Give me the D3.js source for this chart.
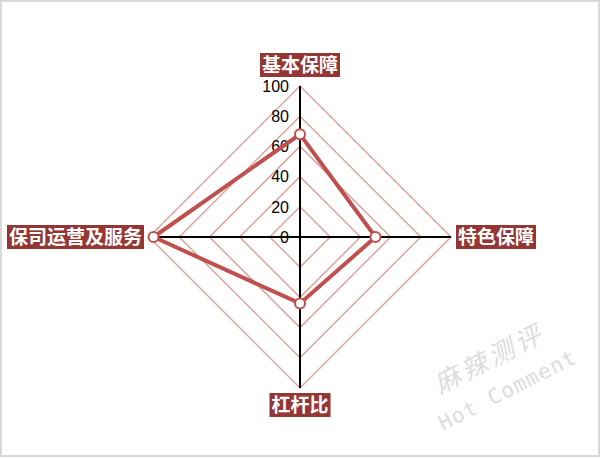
<!DOCTYPE html>
<html><head><meta charset="utf-8">
<script src="https://cdn.jsdelivr.net/npm/d3@7"></script>
<style>html,body{margin:0;padding:0;background:#fff;}svg{display:block;}</style>
</head><body>
<svg id="c" width="601" height="458"></svg>
<script>
const categories = ["基本保障", "特色保障", "杠杆比", "保司运营及服务"];
const values = [68, 50, 44, 97];
const tickValues = [0, 20, 40, 60, 80, 100];

const W = 601, H = 458, cx = 300, cy = 237, R = 151;
const svg = d3.select("#c");
svg.append("rect").attr("x", 1).attr("y", 1).attr("width", W - 3).attr("height", H - 3)
  .attr("fill", "#fff").attr("stroke", "#d9d9d9").attr("stroke-width", 2);

const r = d3.scaleLinear().domain([0, 100]).range([0, R]);
const ang = d3.scaleOrdinal().domain(categories).range(categories.map((d, i) => i * Math.PI * 2 / categories.length));
const pt = (c, v) => [cx + r(v) * Math.sin(ang(c)), cy - r(v) * Math.cos(ang(c))];

const g = svg.append("g");
// grid
const line = d3.line().curve(d3.curveLinearClosed);
tickValues.filter(t => t > 0).forEach(t => {
  g.append("path").attr("d", line(categories.map(c => pt(c, t))))
    .attr("fill", "none").attr("stroke", "#dba5a1").attr("stroke-width", 1.5);
});
// axes
categories.forEach(c => {
  const [x, y] = pt(c, 100);
  g.append("line").attr("x1", cx).attr("y1", cy).attr("x2", x).attr("y2", y)
    .attr("stroke", "#000").attr("stroke-width", 2);
});
// tick labels
tickValues.forEach(t => {
  g.append("text").attr("x", cx - 11).attr("y", cy - r(t)).attr("dy", "0.36em")
    .attr("text-anchor", "end").attr("font-family", "Liberation Sans, Arial, sans-serif")
    .attr("font-size", 16).attr("fill", "#000").text(t);
});
// data
g.append("path").attr("d", line(categories.map((c, i) => pt(c, values[i]))))
  .attr("fill", "none").attr("stroke", "#c0504d").attr("stroke-width", 4).attr("stroke-linejoin", "miter");
categories.forEach((c, i) => {
  const [x, y] = pt(c, values[i]);
  g.append("circle").attr("cx", x).attr("cy", y).attr("r", 5)
    .attr("fill", "#fff").attr("stroke", "#c0504d").attr("stroke-width", 2);
});
// category labels
const labelPos = [
  {anchor: "middle", dx: 0, dy: -21},
  {anchor: "start", dx: 7, dy: 0},
  {anchor: "middle", dx: 0, dy: 17},
  {anchor: "end", dx: -7, dy: 0}
];
categories.forEach((c, i) => {
  const [x, y] = pt(c, 100);
  const p = labelPos[i];
  const lg = g.append("g");
  const txt = lg.append("text").attr("x", x + p.dx).attr("y", y + p.dy).attr("dy", "0.36em")
    .attr("text-anchor", p.anchor).attr("font-family", "Noto Sans CJK SC, sans-serif")
    .attr("font-weight", "bold").attr("font-size", 19).attr("fill", "#fff").text(c);
  const bb = txt.node().getBBox();
  lg.insert("rect", "text").attr("x", bb.x - 2).attr("y", y + p.dy - 12)
    .attr("width", bb.width + 4).attr("height", 24).attr("fill", "#943634");
});
// watermark
const wm = svg.append("g").attr("fill", "#dcdcdc");
wm.append("text").attr("transform", "translate(440,394) rotate(-27)")
  .attr("font-family", "Noto Sans CJK SC, sans-serif")
  .attr("font-size", 26).attr("font-style", "italic").attr("letter-spacing", 4).text("麻辣测评");
wm.append("text").attr("transform", "translate(443,431) rotate(-27)")
  .attr("font-family", "DejaVu Sans Mono, monospace")
  .attr("font-size", 21).attr("letter-spacing", 1.2).text("Hot  Comment");
</script>
</body></html>
